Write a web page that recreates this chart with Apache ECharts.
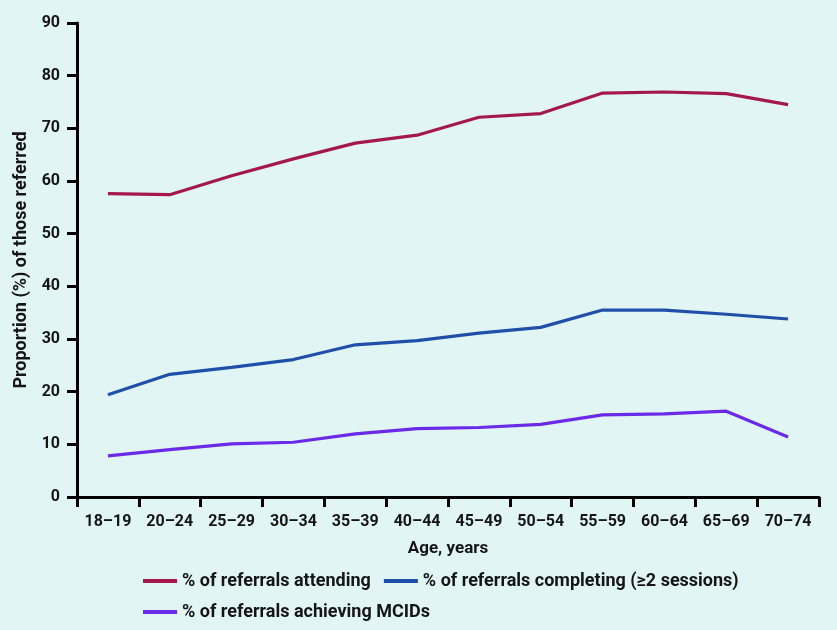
<!DOCTYPE html>
<html><head><meta charset="utf-8">
<script src="https://cdn.jsdelivr.net/npm/echarts@6/dist/echarts.min.js"></script>
<style>html,body{margin:0;padding:0;background:#e1f5f4;}#c{width:837px;height:630px;}</style>
</head><body><div id="c"></div>
<script>
const categories = ['18–19','20–24','25–29','30–34','35–39','40–44','45–49','50–54','55–59','60–64','65–69','70–74'];
const attending = [57.6, 57.4, 61.0, 64.2, 67.2, 68.7, 72.1, 72.8, 76.7, 76.9, 76.6, 74.5];
const completing = [19.4, 23.3, 24.6, 26.1, 28.9, 29.7, 31.1, 32.2, 35.5, 35.5, 34.7, 33.8];
const mcids = [7.8, 9.0, 10.1, 10.4, 12.0, 13.0, 13.2, 13.8, 15.6, 15.8, 16.3, 11.4];
const seriesNames = ['% of referrals attending', '% of referrals completing (≥2 sessions)', '% of referrals achieving MCIDs'];
const yTicks = [0, 10, 20, 30, 40, 50, 60, 70, 80, 90];

const font = 'Roboto';
const txt = '#151515';
const chart = echarts.init(document.getElementById('c'), null, {renderer: 'canvas'});
const mk = (name, data, color) => ({
  name, type: 'line', data, symbol: 'none', smooth: false,
  lineStyle: {color, width: 3.2}, itemStyle: {color}
});
chart.setOption({
  backgroundColor: '#e1f5f4',
  animation: false,
  textStyle: {fontFamily: font},
  grid: {left: 77, right: 18, top: 23, bottom: 133},
  xAxis: {
    type: 'category', data: categories, boundaryGap: true,
    name: 'Age, years', nameLocation: 'middle', nameGap: 43,
    nameTextStyle: {fontFamily: font, fontWeight: 'bold', fontSize: 17, color: txt},
    axisLine: {lineStyle: {color: '#000', width: 3}},
    axisTick: {show: true, length: 10, lineStyle: {color: '#000', width: 3}},
    axisLabel: {fontFamily: font, fontWeight: 'bold', fontSize: 16, color: txt, margin: 17}
  },
  yAxis: {
    type: 'value', min: yTicks[0], max: yTicks[yTicks.length - 1], interval: 10,
    name: 'Proportion (%) of those referred', nameLocation: 'middle', nameGap: 46,
    nameTextStyle: {fontFamily: font, fontWeight: 'bold', fontSize: 18, color: txt},
    axisLine: {show: true, lineStyle: {color: '#000', width: 3}},
    axisTick: {show: true, length: 10, lineStyle: {color: '#000', width: 3}},
    splitLine: {show: false},
    axisLabel: {fontFamily: font, fontWeight: 'bold', fontSize: 16, color: txt, margin: 17}
  },
  legend: {
    data: seriesNames, left: 138, top: 567, width: 660,
    itemWidth: 34, itemHeight: 4, itemGap: 13,
    icon: 'rect',
    textStyle: {fontFamily: font, fontWeight: 'bold', fontSize: 18, color: txt}
  },
  series: [
    mk(seriesNames[0], attending, '#a5184f'),
    mk(seriesNames[1], completing, '#1f4fa9'),
    mk(seriesNames[2], mcids, '#6a2ae8')
  ]
});
</script></body></html>
